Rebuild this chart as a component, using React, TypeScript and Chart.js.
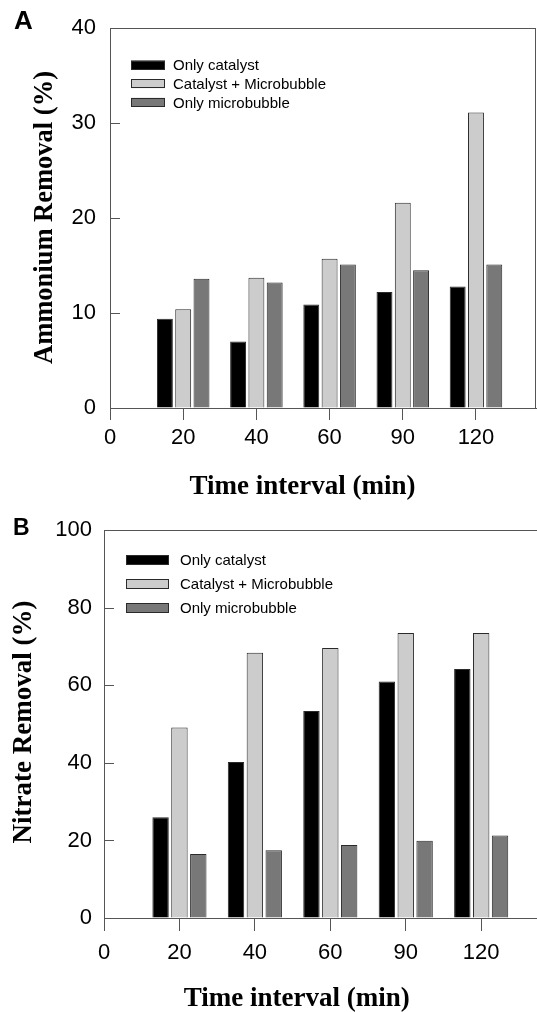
import React, { useEffect, useRef } from "react";
import { Chart, registerables } from "chart.js";

Chart.register(...registerables);

// ---------- data ----------
const timeLabels = ["0", "20", "40", "60", "90", "120"];
const barTimes = ["20", "40", "60", "90", "120"];
const seriesNames = ["Only catalyst", "Catalyst + Microbubble", "Only microbubble"];

const ammoniumOnlyCatalyst = [9.4, 7.0, 10.9, 12.2, 12.8];
const ammoniumCatalystMicrobubble = [10.4, 13.7, 15.7, 21.6, 31.1];
const ammoniumOnlyMicrobubble = [13.6, 13.2, 15.1, 14.5, 15.1];

const nitrateOnlyCatalyst = [26.0, 40.2, 53.4, 61.0, 64.2];
const nitrateCatalystMicrobubble = [49.1, 68.4, 69.6, 73.5, 73.5];
const nitrateOnlyMicrobubble = [16.5, 17.5, 18.8, 19.9, 21.3];

const ammoniumYMax = 40;
const ammoniumYStep = 10;
const nitrateYMax = 100;
const nitrateYStep = 20;

// ---------- styles ----------
const seriesColors = ["#000000", "#cccccc", "#787878"];
const barBorder = "#2a2a2a";
const axisColor = "#555555";
const SANS = "'Liberation Sans', Arial, sans-serif";
const SERIF = "'Liberation Serif', 'Times New Roman', serif";

type PanelCfg = {
  top: number;
  width: number;
  height: number;
  values: number[][];
  yMax: number;
  yStep: number;
  xMax: number;
  padTop: number;
  padRight: number;
  yAxisWidth: number;
  xAxisHeight: number;
  yLabelPad: number;
  xLabelPad: number;
  xTickLen: number;
  yTickLen: number;
  tickFont: number;
  drawRight: boolean;
  letter: string;
  letterFont: number;
  letterX: number;
  letterY: number;
  xTitle: string;
  xTitleX: number;
  xTitleY: number;
  yTitle: string;
  yTitleX: number;
  yTitleY: number;
  titleFont: number;
  yTitleFont: number;
  legBoxX: number;
  legBoxW: number;
  legBoxH: number;
  legTextX: number;
  legFirstY: number;
  legStep: number;
  legFont: number;
};

const panels: PanelCfg[] = [
  {
    top: 0,
    width: 537,
    height: 505,
    values: [ammoniumOnlyCatalyst, ammoniumCatalystMicrobubble, ammoniumOnlyMicrobubble],
    yMax: ammoniumYMax,
    yStep: ammoniumYStep,
    xMax: 5.82,
    padTop: 28,
    padRight: 1,
    yAxisWidth: 110,
    xAxisHeight: 97,
    yLabelPad: 14,
    xLabelPad: 5,
    xTickLen: 12,
    yTickLen: 10,
    tickFont: 22,
    drawRight: true,
    letter: "A",
    letterFont: 26,
    letterX: 14,
    letterY: 29,
    xTitle: "Time interval (min)",
    xTitleX: 302.5,
    xTitleY: 494,
    yTitle: "Ammonium Removal (%)",
    yTitleX: 52,
    yTitleY: 217.5,
    titleFont: 27,
    yTitleFont: 26.5,
    legBoxX: 131,
    legBoxW: 34,
    legBoxH: 9,
    legTextX: 173,
    legFirstY: 65,
    legStep: 18.7,
    legFont: 15,
  },
  {
    top: 505,
    width: 537,
    height: 507,
    values: [nitrateOnlyCatalyst, nitrateCatalystMicrobubble, nitrateOnlyMicrobubble],
    yMax: nitrateYMax,
    yStep: nitrateYStep,
    xMax: 5.74,
    padTop: 25,
    padRight: 0,
    yAxisWidth: 104,
    xAxisHeight: 94,
    yLabelPad: 12,
    xLabelPad: 9,
    xTickLen: 13,
    yTickLen: 10,
    tickFont: 22,
    drawRight: false,
    letter: "B",
    letterFont: 23,
    letterX: 13,
    letterY: 30,
    xTitle: "Time interval (min)",
    xTitleX: 296.7,
    xTitleY: 501,
    yTitle: "Nitrate Removal (%)",
    yTitleX: 31,
    yTitleY: 217,
    titleFont: 27,
    yTitleFont: 27,
    legBoxX: 126,
    legBoxW: 43,
    legBoxH: 10,
    legTextX: 180,
    legFirstY: 55,
    legStep: 24,
    legFont: 15,
  },
];

function makeDecor(p: PanelCfg) {
  return {
    id: "decor",
    afterDraw(chart: any) {
      const ctx: CanvasRenderingContext2D = chart.ctx;
      const { left, right, top } = chart.chartArea;
      const ys = chart.scales.y;
      ctx.save();
      ctx.strokeStyle = axisColor;
      ctx.lineWidth = 1;
      // inward y tick marks
      ys.ticks.forEach((t: any) => {
        if (t.value === ys.min || t.value === ys.max) return;
        const py = Math.round(ys.getPixelForValue(t.value)) + 0.5;
        ctx.beginPath();
        ctx.moveTo(left, py);
        ctx.lineTo(left + p.yTickLen, py);
        ctx.stroke();
      });
      // frame
      const ty = Math.round(top) + 0.5;
      ctx.beginPath();
      ctx.moveTo(left, ty);
      ctx.lineTo(right, ty);
      ctx.stroke();
      if (p.drawRight) {
        const rx = Math.round(right) - 0.5;
        ctx.beginPath();
        ctx.moveTo(rx, ty);
        ctx.lineTo(rx, chart.chartArea.bottom);
        ctx.stroke();
      }
      // legend
      chart.data.datasets.forEach((ds: any, i: number) => {
        const cy = p.legFirstY + i * p.legStep;
        ctx.fillStyle = ds.backgroundColor;
        ctx.fillRect(p.legBoxX, cy - p.legBoxH / 2, p.legBoxW, p.legBoxH);
        ctx.strokeStyle = barBorder;
        ctx.strokeRect(p.legBoxX + 0.5, Math.round(cy - p.legBoxH / 2) + 0.5, p.legBoxW - 1, p.legBoxH - 1);
        ctx.fillStyle = "#000";
        ctx.font = `${p.legFont}px ${SANS}`;
        ctx.textAlign = "left";
        ctx.textBaseline = "middle";
        ctx.fillText(ds.label, p.legTextX, cy + 1);
      });
      // panel letter
      ctx.fillStyle = "#000";
      ctx.font = `bold ${p.letterFont}px ${SANS}`;
      ctx.textAlign = "left";
      ctx.textBaseline = "alphabetic";
      ctx.fillText(p.letter, p.letterX, p.letterY);
      // x title
      ctx.font = `bold ${p.titleFont}px ${SERIF}`;
      ctx.textAlign = "center";
      ctx.fillText(p.xTitle, p.xTitleX, p.xTitleY);
      // y title
      ctx.save();
      ctx.translate(p.yTitleX, p.yTitleY);
      ctx.rotate(-Math.PI / 2);
      ctx.font = `bold ${p.yTitleFont}px ${SERIF}`;
      ctx.textAlign = "center";
      ctx.textBaseline = "alphabetic";
      ctx.fillText(p.yTitle, 0, 0);
      ctx.restore();
      ctx.restore();
    },
  };
}

function Panel({ p }: { p: PanelCfg }) {
  const ref = useRef<HTMLCanvasElement>(null);
  useEffect(() => {
    const canvas = ref.current!;
    const chart = new Chart(canvas, {
      type: "bar",
      data: {
        datasets: seriesNames.map((name, k) => ({
          label: name,
          data: barTimes.map((t, i) => ({ x: timeLabels.indexOf(t), y: p.values[k][i] })),
          backgroundColor: seriesColors[k],
          borderColor: barBorder,
          borderWidth: 1,
          categoryPercentage: 0.75,
          barPercentage: 0.87,
        })),
      } as any,
      options: {
        responsive: false,
        animation: false,
        devicePixelRatio: 1,
        layout: { padding: { top: p.padTop, right: p.padRight, left: 0, bottom: 0 } },
        plugins: { legend: { display: false }, tooltip: { enabled: false } },
        scales: {
          x: {
            type: "linear",
            min: 0,
            max: p.xMax,
            offset: false,
            ticks: {
              stepSize: 1,
              includeBounds: false,
              autoSkip: false,
              maxRotation: 0,
              padding: p.xLabelPad,
              color: "#000",
              font: { family: SANS, size: p.tickFont },
              callback: (v: any) => (Number.isInteger(v) && timeLabels[v] !== undefined ? timeLabels[v] : ""),
            },
            grid: {
              offset: false,
              drawOnChartArea: false,
              drawTicks: true,
              tickLength: p.xTickLen,
              color: axisColor,
              lineWidth: 1,
            },
            border: { display: true, color: axisColor, width: 1 },
            afterFit: (s: any) => {
              s.height = p.xAxisHeight;
            },
          },
          y: {
            min: 0,
            max: p.yMax,
            ticks: {
              stepSize: p.yStep,
              padding: p.yLabelPad,
              color: "#000",
              font: { family: SANS, size: p.tickFont },
            },
            grid: { drawOnChartArea: false, drawTicks: false, color: axisColor },
            border: { display: true, color: axisColor, width: 1 },
            afterFit: (s: any) => {
              s.width = p.yAxisWidth;
            },
          },
        },
      } as any,
      plugins: [makeDecor(p)],
    });
    return () => chart.destroy();
  }, [p]);
  return (
    <canvas
      ref={ref}
      width={p.width}
      height={p.height}
      style={{ position: "absolute", left: 0, top: p.top, display: "block" }}
    />
  );
}

export default function App() {
  return (
    <div
      style={{
        position: "absolute",
        left: 0,
        top: 0,
        width: 537,
        height: 1012,
        overflow: "hidden",
        background: "#fff",
      }}
    >
      {panels.map((p, i) => (
        <Panel key={i} p={p} />
      ))}
    </div>
  );
}
